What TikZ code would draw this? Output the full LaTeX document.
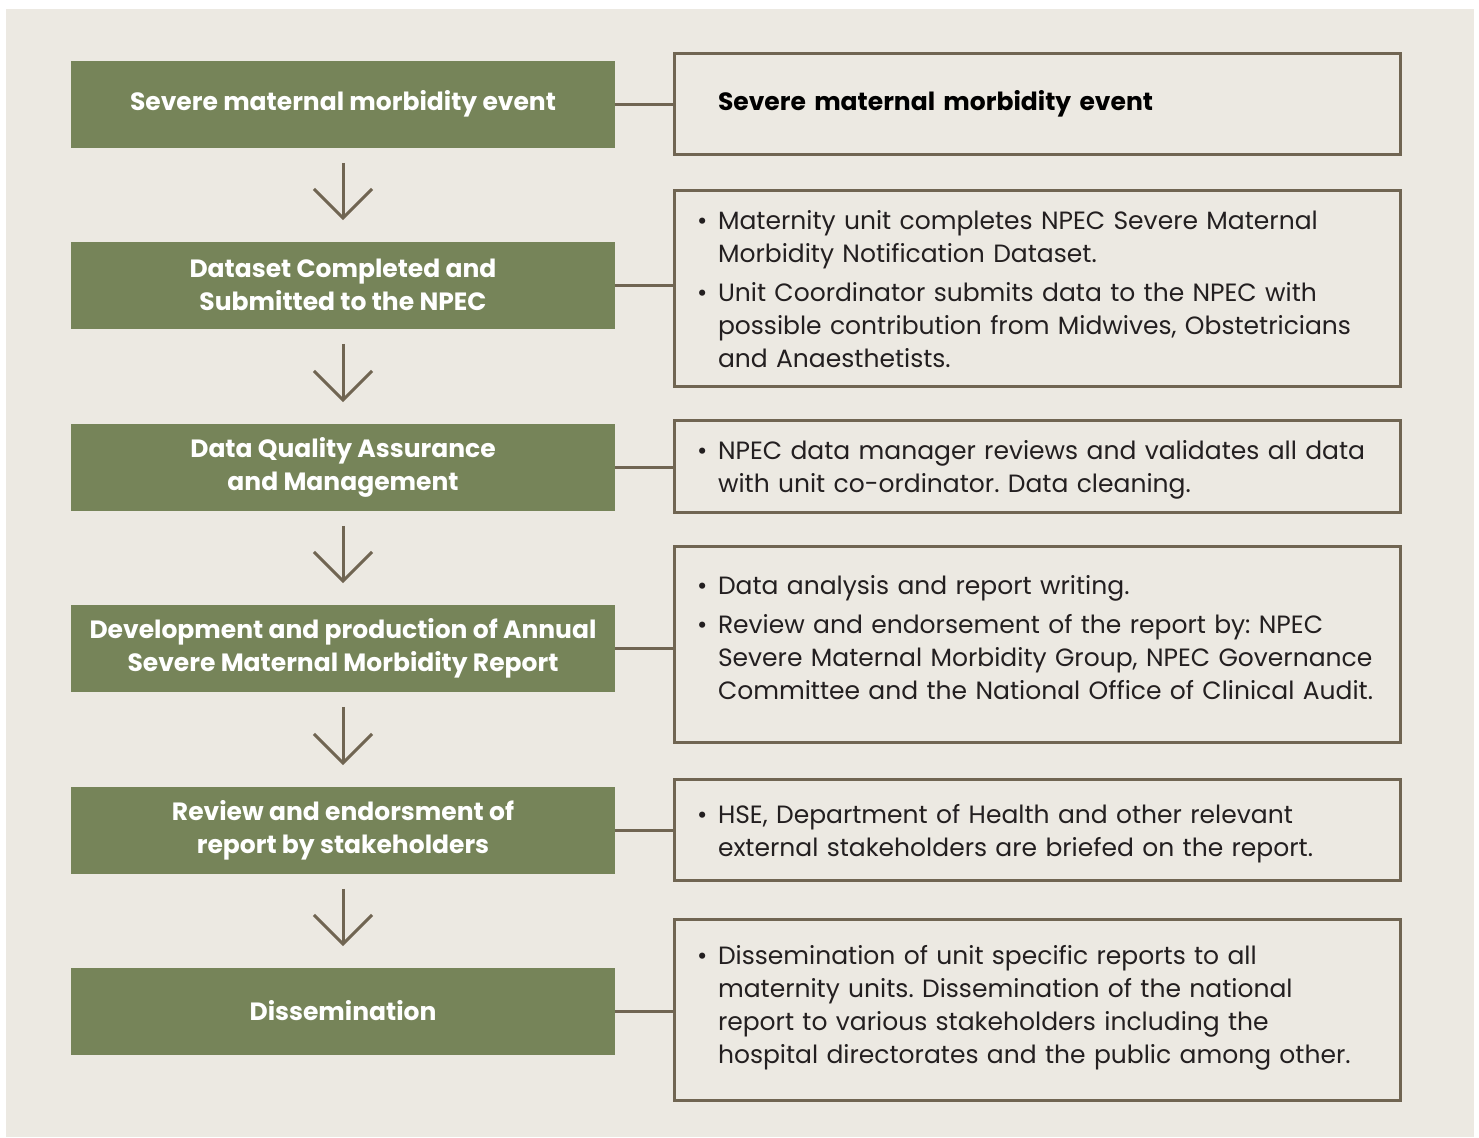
\documentclass[tikz,border=0pt]{standalone}
\usepackage{fontspec}
\setmainfont{Poppins}
\usepackage{tikz}
\usetikzlibrary{arrows.meta}
\frenchspacing
\definecolor{bgbeige}{RGB}{236,233,226}
\definecolor{sagegreen}{RGB}{118,132,89}
\definecolor{umber}{RGB}{112,101,82}
\definecolor{inkgray}{RGB}{35,31,32}
\newcommand{\itm}[1]{\par\noindent\hangindent=10.5pt\hangafter=1\makebox[10.5pt][l]{\textbullet}#1\par}

\tikzset{
  stage/.style={fill=sagegreen, text=white, minimum width=272pt, minimum height=43.5pt,
    align=center, inner sep=0pt, font=\fontsize{12.5}{16.5}\selectfont\bfseries},
  detail/.style={draw=umber, line width=1.5pt, text=inkgray, minimum width=363pt,
    text width=340pt, inner xsep=11.5pt, inner ysep=0pt, align=left,
    font=\fontsize{12.5}{16.5}\selectfont, execute at begin node=\setlength{\parskip}{3pt}},
  lift/.style={execute at end node={\par\vspace*{#1}}},
  link/.style={draw=umber, line width=1.5pt},
  flow/.style={draw=umber, line width=1.5pt, -{Straight Barb[length=14.5pt,width=29pt]}}
}

\begin{document}
\begin{tikzpicture}[x=0.5pt,y=-0.5pt]
\useasboundingbox (0,0) rectangle (1479,1137);
\fill[bgbeige] (6,9) rectangle (1474,1137);

\node[stage] (g1) at (343,104) {Severe maternal morbidity event};
\node[stage] (g2) at (343,285) {Dataset Completed and\\Submitted to the NPEC};
\node[stage] (g3) at (343,467) {Data Quality Assurance\\and Management};
\node[stage] (g4) at (343,648) {Development and production of Annual\\Severe Maternal Morbidity Report};
\node[stage] (g5) at (343,830) {Review and endorsment of\\report by stakeholders};
\node[stage] (g6) at (343,1011) {Dissemination};

\node[detail, minimum height=50.5pt] (d1) at (1037,103.5)
  {\hspace*{10.5pt}\textcolor{black}{\bfseries Severe maternal morbidity event}};
\node[detail, lift=9pt, minimum height=97.5pt] (d2) at (1037,288.5)
  {\itm{Maternity unit completes NPEC Severe Maternal\newline Morbidity Notification Dataset.}
   \itm{Unit Coordinator submits data to the NPEC with\newline possible contribution from Midwives, Obstetricians\newline and Anaesthetists.}};
\node[detail, lift=7pt, minimum height=43.5pt] (d3) at (1037,466.5)
  {\itm{NPEC data manager reviews and validates all data\newline with unit co-ordinator. Data cleaning.}};
\node[detail, lift=16pt, minimum height=98pt] (d4) at (1037,644)
  {\itm{Data analysis and report writing.}
   \itm{Review and endorsement of the report by: NPEC\newline Severe Maternal Morbidity Group, NPEC Governance\newline Committee and the National Office of Clinical Audit.}};
\node[detail, lift=6pt, minimum height=50.5pt] (d5) at (1037,829.5)
  {\itm{HSE, Department of Health and other relevant\newline external stakeholders are briefed on the report.}};
\node[detail, lift=12pt, minimum height=90.5pt] (d6) at (1037,1009.5)
  {\itm{Dissemination of unit specific reports to all\newline maternity units. Dissemination of the national\newline report to various stakeholders including the\newline hospital directorates and the public among other.}};

\foreach \i in {1,...,6} \draw[link] (g\i.east) -- (g\i.east -| d\i.west);
\foreach \i/\j in {1/2,2/3,3/4,4/5,5/6}
  \draw[flow] ([yshift=-7.5pt]g\i.south) -- ([yshift=10.5pt]g\j.north);
\end{tikzpicture}
\end{document}
